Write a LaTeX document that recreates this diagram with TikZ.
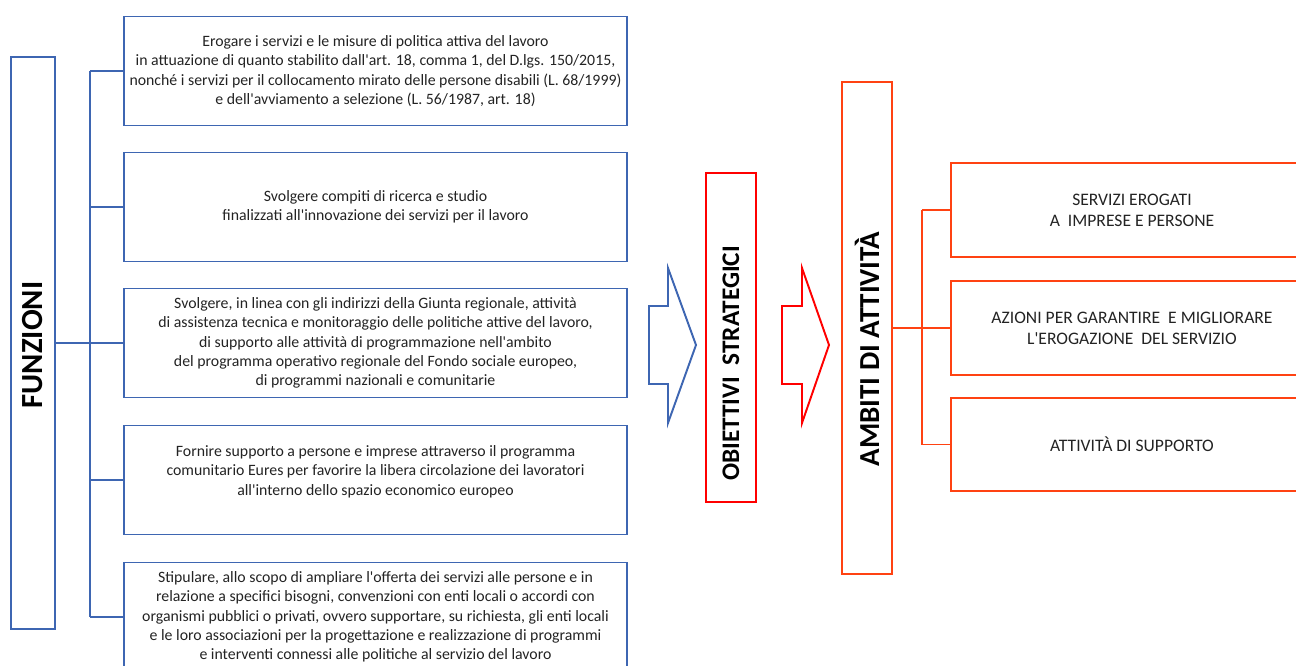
\documentclass[tikz,border=0pt]{standalone}
\usepackage{fontspec}
\setmainfont{Carlito}
\usepackage{tikz}

\definecolor{funblue}{RGB}{62,102,178}
\definecolor{objred}{RGB}{255,0,0}
\definecolor{ambred}{RGB}{255,66,18}
\definecolor{txtgray}{RGB}{35,35,35}
\newcommand{\ap}{\textquotesingle}

\tikzset{
  funbox/.style={draw=funblue, line width=1.1pt, minimum width=10.06cm, minimum height=2.18cm,
    align=center, text=txtgray, font=\fontsize{9}{11}\selectfont},
  ambbox/.style={draw=ambred, line width=1.1pt, minimum width=7.24cm, minimum height=1.87cm,
    align=center, text=txtgray, font=\fontsize{10}{12}\selectfont},
  titlebox/.style={line width=1.1pt, minimum width=1cm, text=black}
}

\begin{document}
\begin{tikzpicture}[x=0.02cm,y=-0.02cm]
\useasboundingbox (0,0) rectangle (1296,666);
\clip (0,0) rectangle (1296,666);

%Left column: FUNZIONI and its five boxes
\node[titlebox, draw=funblue, minimum width=0.88cm, minimum height=11.46cm,
  font=\bfseries\fontsize{17.5}{20}\selectfont] (fz) at (33,343) {\rotatebox{90}{FUNZIONI\hspace{0.08cm}}};

\node[funbox] (f1) at (375.5,71) {Erogare i servizi e le misure di politica attiva del lavoro\\
  in attuazione di quanto stabilito dall\ap art. 18, comma 1, del D.lgs. 150/2015,\\
  nonché i servizi per il collocamento mirato delle persone disabili (L. 68/1999)\\
  e dell\ap avviamento a selezione (L. 56/1987, art. 18)};
\node[funbox] (f2) at (375.5,207) {Svolgere compiti di ricerca e studio\\
  finalizzati all\ap innovazione dei servizi per il lavoro};
\node[funbox] (f3) at (375.5,343) {Svolgere, in linea con gli indirizzi della Giunta regionale, attività\\
  di assistenza tecnica e monitoraggio delle politiche attive del lavoro,\\
  di supporto alle attività di programmazione nell\ap ambito\\
  del programma operativo regionale del Fondo sociale europeo,\\
  di programmi nazionali e comunitarie};
\node[funbox] (f4) at (375.5,480) {Fornire supporto a persone e imprese attraverso il programma\\
  comunitario Eures per favorire la libera circolazione dei lavoratori\\
  all\ap interno dello spazio economico europeo\\ \mbox{}};
\node[funbox] (f5) at (375.5,617) {Stipulare, allo scopo di ampliare l\ap offerta dei servizi alle persone e in\\
  relazione a specifici bisogni, convenzioni con enti locali o accordi con\\
  organismi pubblici o privati, ovvero supportare, su richiesta, gli enti locali\\
  e le loro associazioni per la progettazione e realizzazione di programmi\\
  e interventi connessi alle politiche al servizio del lavoro};

%Blue tree
\coordinate (lbus) at (90,0);
\draw[funblue, line width=1.1pt] (fz.east) -- (fz.east -| lbus);
\draw[funblue, line width=1.1pt] (f1.west -| lbus) -- (f5.west -| lbus);
\foreach \f in {f1,f2,f3,f4,f5}
  \draw[funblue, line width=1.1pt] (\f.west -| lbus) -- (\f.west);

%Block arrows
\coordinate (barr) at (649,345);
\coordinate (rarr) at (782,345);
\draw[funblue, line width=1.1pt] (barr) ++(0,-39) -- ++(19,0) -- ++(0,-38) -- ++(28,77)
  -- ++(-28,78) -- ++(0,-39) -- ++(-19,0) -- cycle;
\draw[objred, line width=1.1pt] (rarr) ++(0,-39) -- ++(20,0) -- ++(0,-38) -- ++(27,77)
  -- ++(-27,78) -- ++(0,-39) -- ++(-20,0) -- cycle;

%Middle titles (text sits low in the boxes)
\node[titlebox, draw=objred, minimum height=6.58cm,
  font=\bfseries\fontsize{14.4}{16}\selectfont] (ob) at (731,337.5)
  {\rotatebox{90}{OBIETTIVI\ \ STRATEGICI\hspace{1.04cm}}};
\node[titlebox, draw=ambred, minimum height=9.84cm,
  font=\bfseries\fontsize{16.5}{18}\selectfont] (am) at (867,328)
  {\rotatebox{90}{AMBITI DI ATTIVITÀ\hspace{0.84cm}}};

%Right boxes
\node[ambbox] (a1) at (1132,210) {SERVIZI\ EROGATI\\A\ \ IMPRESE E PERSONE};
\node[ambbox] (a2) at (1132,328) {AZIONI PER GARANTIRE\ \ E MIGLIORARE\\L\ap EROGAZIONE\ \ DEL SERVIZIO};
\node[ambbox] (a3) at (1132,444.5) {ATTIVITÀ DI SUPPORTO};

%Red tree
\coordinate (rbus) at (922,0);
\draw[ambred, line width=1.1pt] (am.east) -- (am.east -| rbus);
\draw[ambred, line width=1.1pt] (a1.west -| rbus) -- (a3.west -| rbus);
\foreach \a in {a1,a2,a3}
  \draw[ambred, line width=1.1pt] (\a.west -| rbus) -- (\a.west);
\end{tikzpicture}
\end{document}
